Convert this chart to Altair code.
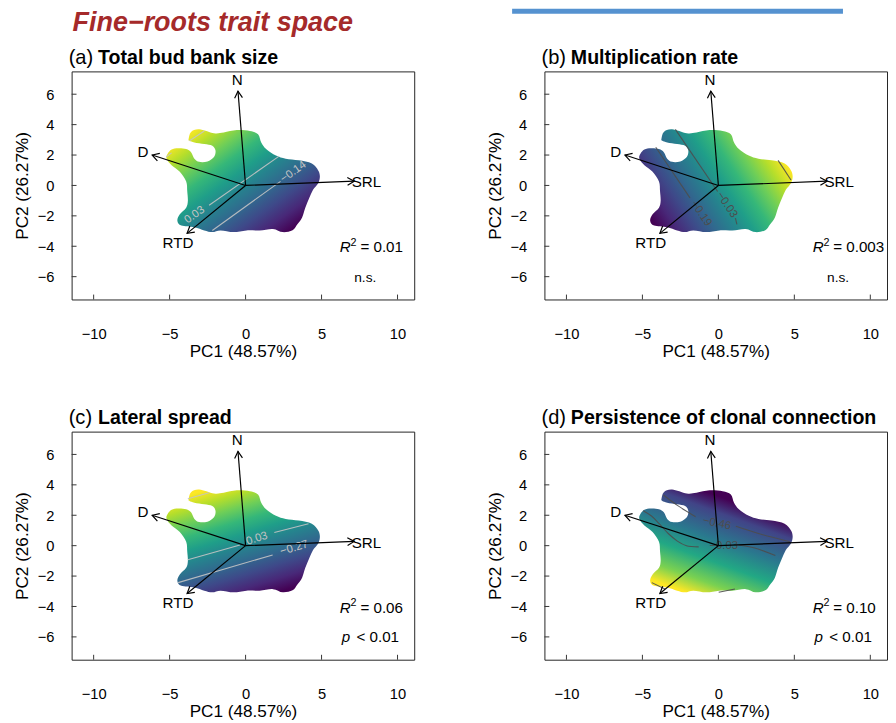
import altair as alt
import pandas as pd

FONT = "Liberation Sans"

# ---------------- data ----------------
# outline of the trait-space hull (PC1, PC2), same in every panel
blob_x = [-3.75, -3.59, -3.05, -2.08, -1.44, -0.58, 0.28, 0.82, 1.03, 1.35, 2.00, 2.64, 3.50, 4.36,
          4.78, 4.89, 4.78, 4.44, 4.19, 3.93, 3.72, 3.41, 3.09, 2.45, 1.80, 0.92, 0.06, -0.79, -1.65,
          -2.19, -2.72, -3.37, -4.23, -4.49, -4.33, -3.91, -3.80, -3.84, -3.91, -4.33, -4.87, -5.20,
          -5.13, -4.87, -4.44, -3.91, -3.59, -3.37, -3.05, -2.51, -2.08, -1.98, -2.19, -2.72, -3.37, -3.69]
blob_y = [3.05, 3.52, 3.69, 3.43, 3.48, 3.64, 3.58, 3.37, 2.83, 2.40, 1.97, 1.76, 1.65, 1.44,
          0.99, 0.58, 0.15, -0.28, -0.82, -1.46, -2.11, -2.56, -2.94, -3.07, -2.86, -2.96, -2.96, -3.07, -2.96,
          -3.07, -2.96, -2.75, -2.64, -2.32, -1.89, -1.46, -1.03, -0.39, 0.26, 0.90, 1.33, 1.76,
          2.08, 2.36, 2.45, 2.40, 2.19, 1.76, 1.55, 1.58, 1.87, 2.29, 2.61, 2.72, 2.83, 2.94]

trait_names = ["N", "D", "SRL", "RTD"]
trait_tip_x = [-0.50, -6.15, 7.15, -3.85]
trait_tip_y = [6.20, 2.00, 0.28, -3.15]
trait_lab_x = [-0.55, -6.75, 7.95, -4.45]
trait_lab_y = [6.95, 2.20, 0.20, -3.80]

x_ticks = [-10, -5, 0, 5, 10]
y_ticks = [-6, -4, -2, 0, 2, 4, 6]

panel_letters = ["(a)", "(b)", "(c)", "(d)"]
panel_titles = ["Total bud bank size", "Multiplication rate", "Lateral spread",
                "Persistence of clonal connection"]
r2_values = ["0.01", "0.003", "0.06", "0.10"]
sig_italic = ["", "", "p", "p"]
sig_text = ["n.s.", "n.s.", "< 0.01", "< 0.01"]

# contour lines: x, y, segment id
a_cx = [-2.40, 2.21, -2.19, 2.30, -3.69, -2.72, -5.23, -4.87]
a_cy = [-1.30, 1.93, -2.96, 0.27, 2.94, 3.58, 1.87, 2.14]
a_cs = [1, 1, 2, 2, 3, 3, 4, 4]
a_lab = ["0.03", "\u22120.14"]
a_lx = [-3.35, 3.15]
a_ly = [-1.95, 0.88]
a_la = [324.6, 324.3]

b_cx = [-2.83, -0.05, 1.12, 1.22, -4.12, -1.87, 3.93, 4.78]
b_cy = [3.69, -0.40, -2.15, -2.56, 2.51, -0.82, 1.65, 0.36]
b_cs = [1, 1, 2, 2, 3, 3, 4, 4]
b_lab = ["\u22120.03", "\u22120.19"]
b_lx = [0.55, -1.15]
b_ly = [-1.28, -1.85]
b_la = [56.5, 56.0]

c_cx = [-3.80, -0.37, 1.89, 4.14, -4.44, 1.78, -3.80, -2.40]
c_cy = [-0.93, 0.04, 0.86, 1.44, -2.43, -0.61, 3.09, 3.48]
c_cs = [1, 1, 2, 2, 3, 3, 4, 4]
c_lab = ["0.03", "\u22120.27"]
c_lx = [0.75, 3.20]
c_ly = [0.45, -0.17]
c_la = [342.0, 343.7]

d_cx = [-3.62, -2.70, -1.50, 1.15, 2.64, 4.70,
        -4.95, -4.40, -3.90, -3.30, -2.70, -2.10, -1.30, 1.35, 2.40, 3.75,
        -4.38, -3.52, 0.02, 1.09]
d_cy = [3.33, 2.65, 1.90, 1.27, 0.80, 0.26,
        2.30, 1.95, 1.45, 0.80, 0.30, 0.00, -0.08, 0.03, -0.15, -0.65,
        -2.43, -2.85, -3.07, -2.85]
d_cs = [1, 1, 1, 2, 2, 2,
        3, 3, 3, 3, 3, 3, 3, 4, 4, 4,
        5, 5, 6, 6]
d_lab = ["\u22120.46", "\u22120.03"]
d_lx = [-0.10, 0.35]
d_ly = [1.45, -0.02]
d_la = [12.0, 0.0]

viridis = ["#440154", "#482878", "#3e4989", "#31688e", "#26828e",
           "#1f9e89", "#35b779", "#6ece58", "#b5de2b", "#fde725"]

# ---------------- styling helpers ----------------
XDOM = [-11.45, 11.1]
YDOM = [-7.5, 7.5]
W, H = 350, 233

xs = alt.Scale(domain=XDOM, nice=False, zero=False)
ys = alt.Scale(domain=YDOM, nice=False, zero=False)

xaxis = alt.Axis(values=x_ticks, ticks=False, tickSize=0, domain=False, grid=False,
                 labelPadding=28, labelFontSize=15, labelFont=FONT, labelColor="black",
                 labelOverlap=False, labelFlush=False,
                 title="PC1 (48.57%)", titleFont=FONT, titleFontSize=17.5,
                 titleFontWeight="normal", titleColor="black", titlePadding=1)
yaxis = alt.Axis(values=y_ticks, ticks=False, tickSize=0, domain=False, grid=False,
                 labelPadding=18, labelFontSize=15, labelFont=FONT, labelColor="black",
                 labelOverlap=False, labelFlush=False, labelAngle=0,
                 title="PC2 (26.27%)", titleFont=FONT, titleFontSize=17.5,
                 titleFontWeight="normal", titleColor="black", titlePadding=6)


def X(f):
    return alt.X(f"{f}:Q", scale=xs, axis=xaxis)


def Y(f):
    return alt.Y(f"{f}:Q", scale=ys, axis=yaxis)


def grad(x1, y1, x2, y2, stops):
    return alt.LinearGradient(
        gradient="linear",
        stops=[alt.GradientStop(offset=o, color=c) for o, c in stops],
        x1=x1, y1=y1, x2=x2, y2=y2)


def even_stops(colors):
    n = len(colors) - 1
    return [(i / n, c) for i, c in enumerate(colors)]


gradients = [
    grad(0.077, 0.103, 0.905, 0.88, even_stops(viridis[::-1])),
    grad(0.009, 0.713, 0.947, 0.306, even_stops(viridis)),
    grad(0.265, 0.0, 0.725, 1.0, even_stops(viridis[::-1])),
    grad(0.686, 0.157, 0.214, 1.027,
         [(0.0, "#440154"), (0.14, "#414487"), (0.38, "#2a788e"), (0.58, "#22a884"),
          (0.78, "#7ad151"), (0.93, "#fde725"), (1.0, "#fde725")]),
]
contour_color = ["#c4c4c4", "#4d4d4d", "#c4c4c4", "#4d4d4d"]
contour_data = [
    (a_cx, a_cy, a_cs, a_lab, a_lx, a_ly, a_la),
    (b_cx, b_cy, b_cs, b_lab, b_lx, b_ly, b_la),
    (c_cx, c_cy, c_cs, c_lab, c_lx, c_ly, c_la),
    (d_cx, d_cy, d_cs, d_lab, d_lx, d_ly, d_la),
]

CHEVRON = "M-0.5,0.866L0,0L0.5,0.866"


def ann(text, x, y, **kw):
    props = dict(font=FONT, color="black", align="left", baseline="alphabetic")
    props.update(kw)
    return alt.Chart(pd.DataFrame({"t": [text]})).mark_text(**props).encode(
        x=alt.value(x), y=alt.value(y), text="t:N")


def panel(k):
    blob_df = pd.DataFrame({"x": blob_x, "y": blob_y, "i": list(range(len(blob_x)))})
    blob = alt.Chart(blob_df).mark_line(
        interpolate="cardinal-closed", fill=gradients[k], strokeWidth=0, strokeOpacity=0
    ).encode(x=X("x"), y=Y("y"), order=alt.Order("i:Q"))

    cx, cy, cs, lab, lx, ly, la = contour_data[k]
    cdf = pd.DataFrame({"x": cx, "y": cy, "seg": cs, "i": list(range(len(cx)))})
    clines = alt.Chart(cdf).mark_line(
        color=contour_color[k], strokeWidth=1.1, opacity=0.9, interpolate="cardinal"
    ).encode(x=X("x"), y=Y("y"), detail="seg:N", order=alt.Order("i:Q"))
    ldf = pd.DataFrame({"x": lx, "y": ly, "t": lab, "ang": la})
    clabels = alt.Chart(ldf).mark_text(
        font=FONT, fontSize=11.5, color=contour_color[k], baseline="middle", align="center"
    ).encode(x=X("x"), y=Y("y"), text="t:N", angle=alt.Angle("ang:Q", scale=None))

    adf = pd.DataFrame({"name": trait_names, "x0": [0.0] * 4, "y0": [0.0] * 4,
                        "x": trait_tip_x, "y": trait_tip_y,
                        "lx": trait_lab_x, "ly": trait_lab_y})
    shafts = alt.Chart(adf).mark_rule(color="black", strokeWidth=1.2).encode(
        x=X("x0"), y=Y("y0"), x2="x:Q", y2="y:Q")
    heads = alt.Chart(adf).transform_calculate(
        ang="(atan2(datum.x, datum.y) * 180 / PI + 360) % 360"
    ).mark_point(shape=CHEVRON, filled=False, size=256, color="black",
                 strokeWidth=1.2, opacity=1).encode(
        x=X("x"), y=Y("y"), angle=alt.Angle("ang:Q", scale=None))
    alabels = alt.Chart(adf).mark_text(
        font=FONT, fontSize=15.5, color="black", baseline="middle", align="center"
    ).encode(x=X("lx"), y=Y("ly"), text="name:N")

    xt = alt.Chart(pd.DataFrame({"v": x_ticks})).mark_rule(color="#333", strokeWidth=1).encode(
        x=X("v"), y=alt.value(H), y2=alt.value(H - 5))
    yt = alt.Chart(pd.DataFrame({"v": y_ticks})).mark_rule(color="#333", strokeWidth=1).encode(
        y=Y("v"), x=alt.value(0), x2=alt.value(5))

    layers = [blob, clines, clabels, shafts, heads, alabels, xt, yt,
              ann("R", 274, 185, fontSize=15.5, fontStyle="italic"),
              ann("2", 285, 178, fontSize=11),
              ann("= " + r2_values[k], 295, 185, fontSize=15.5),
              ann(panel_letters[k], -3, -8, fontSize=20.5),
              ann(panel_titles[k], 27, -8, fontSize=20, fontWeight="bold")]
    if sig_italic[k]:
        layers += [ann(sig_italic[k], 276, 215, fontSize=15.5, fontStyle="italic"),
                   ann(sig_text[k], 291, 215, fontSize=15.5)]
    else:
        layers += [ann(sig_text[k], 300, 215, fontSize=14, align="center")]
    if k == 0:
        layers.append(ann("Fine\u2212roots trait space", 1, -63, fontSize=27.5,
                          fontWeight="bold", fontStyle="italic", color="#A52A2A",
                          baseline="top"))
    if k == 1:
        layers.append(alt.Chart(pd.DataFrame({"t": [0]})).mark_rect(
            color="#5592D0").encode(
            x=alt.value(-33), x2=alt.value(305), y=alt.value(-64), y2=alt.value(-59)))
    return alt.layer(*layers).properties(width=W, height=H)


row1 = alt.hconcat(panel(0), panel(1), spacing=72)
row2 = alt.hconcat(panel(2), panel(3), spacing=72)
chart = alt.vconcat(row1, row2, spacing=48).properties(
    background="white", padding={"left": 5, "top": -8, "right": 0, "bottom": 0}
).configure_view(stroke="#222", strokeWidth=1)

chart.save("out.html", embed_options={"renderer": "svg", "actions": False})
